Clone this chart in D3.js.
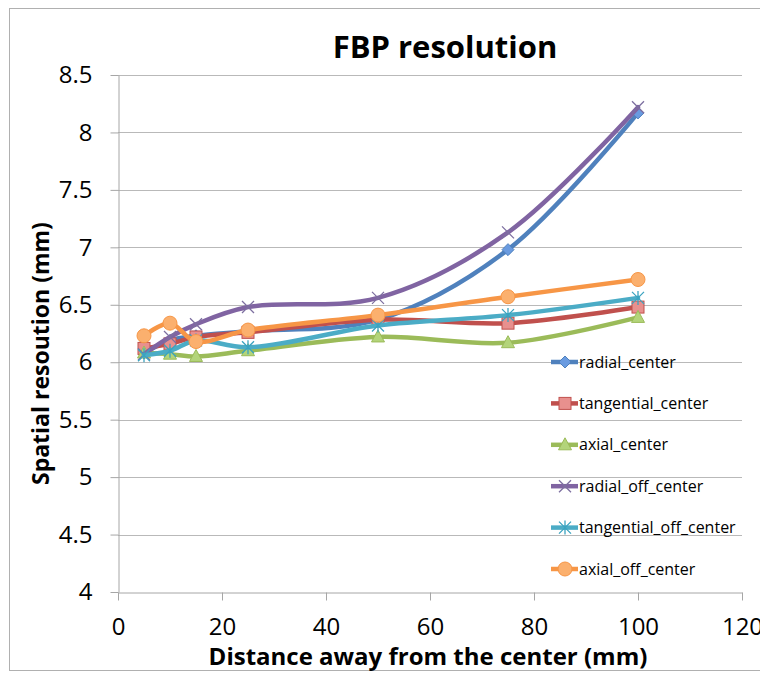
<!DOCTYPE html>
<html>
<head>
<meta charset="utf-8">
<script src="https://cdn.jsdelivr.net/npm/d3@7"></script>
<style>
  body { margin: 0; background: #fff; }
  svg { display: block; }
</style>
</head>
<body>
<svg id="chart"></svg>
<script>
// Data
const distances = [5, 10, 15, 25, 50, 75, 100];
const radialCenter = [6.08, 6.19, 6.23, 6.27, 6.37, 6.98, 8.17];
const tangentialCenter = [6.12, 6.16, 6.22, 6.26, 6.37, 6.34, 6.48];
const axialCenter = [6.08, 6.07, 6.05, 6.10, 6.22, 6.17, 6.39];
const radialOffCenter = [6.07, 6.22, 6.33, 6.48, 6.56, 7.13, 8.22];
const tangentialOffCenter = [6.06, 6.10, 6.19, 6.13, 6.32, 6.41, 6.56];
const axialOffCenter = [6.23, 6.34, 6.18, 6.28, 6.41, 6.57, 6.72];

const seriesNames = ["radial_center", "tangential_center", "axial_center",
  "radial_off_center", "tangential_off_center", "axial_off_center"];
const seriesValues = [radialCenter, tangentialCenter, axialCenter,
  radialOffCenter, tangentialOffCenter, axialOffCenter];
const seriesColors = ["#4F81BD", "#C0504D", "#9BBB59", "#8064A2", "#4BACC6", "#F79646"];
const markerFills = ["#6a9be0", "#e8908e", "#b3d47a", "#8064A2", "#4BACC6", "#fbb06e"];
const markerTypes = ["diamond", "square", "triangle", "x", "star", "circle"];

const xTicks = [0, 20, 40, 60, 80, 100, 120];
const yTicks = [4, 4.5, 5, 5.5, 6, 6.5, 7, 7.5, 8, 8.5];

const W = 760, H = 673;
const font = "'Open Sans', sans-serif";

const svg = d3.select("#chart")
  .attr("width", W)
  .attr("height", H);

// outer frame
svg.append("rect")
  .attr("x", 9.5).attr("y", 8.5)
  .attr("width", W).attr("height", 662)
  .attr("fill", "none")
  .attr("stroke", "#b0b0b0");

const x = d3.scaleLinear().domain([0, 120]).range([118, 742]);
const y = d3.scaleLinear().domain([4, 8.5]).range([592, 75]);

// Gridlines
svg.append("g")
  .selectAll("line")
  .data(yTicks.slice(1))
  .enter()
  .append("line")
  .attr("x1", x(0)).attr("x2", x(120))
  .attr("y1", d => Math.round(y(d)) + 0.5)
  .attr("y2", d => Math.round(y(d)) + 0.5)
  .attr("stroke", "#b9b9b9")
  .attr("stroke-width", 1);

// Axes
const yAxis = svg.append("g")
  .attr("transform", `translate(${x(0) + 0.5},0)`)
  .call(d3.axisLeft(y).tickValues(yTicks).tickFormat(d3.format("")).tickSize(8).tickSizeOuter(0).tickPadding(18));

const xAxis = svg.append("g")
  .attr("transform", `translate(0,${y(4) + 0.5})`)
  .call(d3.axisBottom(x).tickValues(xTicks).tickSize(8).tickSizeOuter(0).tickPadding(17));

[xAxis, yAxis].forEach(ax => {
  ax.select(".domain").attr("stroke", "#a6a6a6");
  ax.selectAll(".tick line").attr("stroke", "#a6a6a6");
  ax.selectAll(".tick text")
    .attr("fill", "#000")
    .style("font-family", font)
    .style("font-size", "24px");
});

// Title and axis labels
svg.append("text")
  .attr("x", 445).attr("y", 58)
  .attr("text-anchor", "middle")
  .style("font-family", font)
  .style("font-weight", "bold")
  .style("font-size", "31px")
  .text("FBP resolution");

svg.append("text")
  .attr("x", 428).attr("y", 665)
  .attr("text-anchor", "middle")
  .style("font-family", font)
  .style("font-weight", "bold")
  .style("font-size", "24px")
  .text("Distance away from the center (mm)");

svg.append("text")
  .attr("transform", `translate(49,485) rotate(-90)`)
  .attr("text-anchor", "start")
  .style("font-family", font)
  .style("font-weight", "bold")
  .style("font-size", "23px")
  .text("Spatial resoution (mm)");

// Marker drawing
function drawMarker(g, type, color, fill) {
  if (type === "diamond") {
    g.append("path").attr("d", "M0,-6L6,0L0,6L-6,0Z").attr("fill", fill).attr("stroke", color).attr("stroke-width", 1);
  } else if (type === "square") {
    g.append("rect").attr("x", -6).attr("y", -6).attr("width", 12).attr("height", 12)
      .attr("fill", fill).attr("stroke", color).attr("stroke-width", 1);
  } else if (type === "triangle") {
    g.append("path").attr("d", "M0,-7L6.5,5L-6.5,5Z").attr("fill", fill).attr("stroke", color).attr("stroke-width", 1);
  } else if (type === "x") {
    g.append("path").attr("d", "M-6,-6L6,6M6,-6L-6,6").attr("stroke", "#7d6fa0").attr("stroke-width", 1.3);
  } else if (type === "star") {
    g.append("path").attr("d", "M-6,-6L6,6M6,-6L-6,6M0,-7L0,7").attr("stroke", "#3ba3c0").attr("stroke-width", 1.3);
  } else if (type === "circle") {
    g.append("circle").attr("r", 7).attr("fill", fill).attr("stroke", color).attr("stroke-width", 1);
  }
}

const line = d3.line()
  .curve(d3.curveCatmullRom.alpha(0.5))
  .x(d => x(d[0]))
  .y(d => y(d[1]));

seriesValues.forEach((vals, i) => {
  const pts = distances.map((d, j) => [d, vals[j]]);
  const g = svg.append("g").attr("class", "series");
  g.append("path")
    .attr("d", line(pts))
    .attr("fill", "none")
    .attr("stroke", seriesColors[i])
    .attr("stroke-width", 4.5)
    .attr("stroke-linecap", "round");
  pts.forEach(p => {
    const m = g.append("g").attr("transform", `translate(${x(p[0])},${y(p[1])})`);
    drawMarker(m, markerTypes[i], seriesColors[i], markerFills[i]);
  });
});

// Legend
const legend = svg.append("g").attr("transform", "translate(551,362)");
seriesNames.forEach((name, i) => {
  const row = legend.append("g").attr("transform", `translate(0,${i * 41.4})`);
  row.append("line")
    .attr("x1", 0).attr("x2", 27)
    .attr("y1", 0).attr("y2", 0)
    .attr("stroke", seriesColors[i])
    .attr("stroke-width", 4.5);
  const m = row.append("g").attr("transform", "translate(14,0)");
  drawMarker(m, markerTypes[i], seriesColors[i], markerFills[i]);
  row.append("text")
    .attr("x", 28).attr("y", 0)
    .attr("dy", "0.35em")
    .style("font-family", font)
    .style("font-size", "16px")
    .text(name);
});
</script>
</body>
</html>
